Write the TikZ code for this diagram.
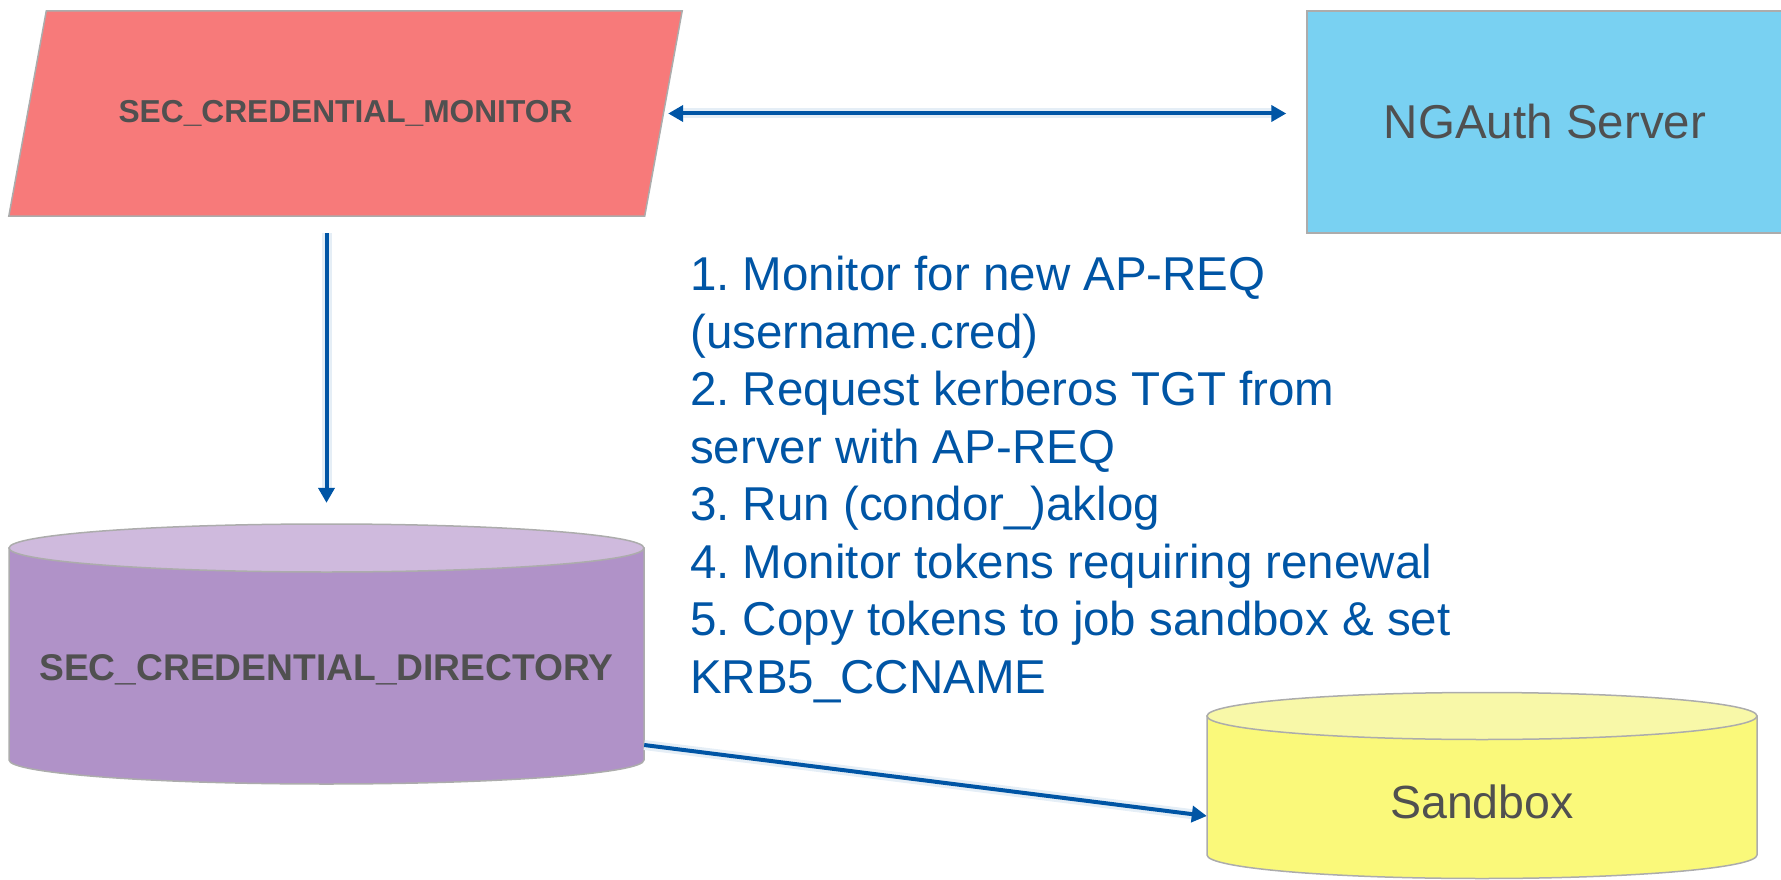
\documentclass[tikz,border=0pt]{standalone}
\usepackage{fontspec}
\setmainfont{Liberation Sans}
\usetikzlibrary{positioning}
\usetikzlibrary{arrows.meta}
\usetikzlibrary{calc}
\frenchspacing
\definecolor{monred}{RGB}{247,122,122}
\definecolor{authblue}{RGB}{121,209,242}
\definecolor{dirbody}{RGB}{176,146,200}
\definecolor{dirtop}{RGB}{207,186,221}
\definecolor{boxbody}{RGB}{250,249,122}
\definecolor{boxtop}{RGB}{248,248,168}
\definecolor{edgegray}{RGB}{172,172,172}
\definecolor{labelgray}{RGB}{80,80,80}
\definecolor{flowblue}{RGB}{0,85,165}
\tikzstyle{outline}=[draw=edgegray,line width=1.5pt]
\tikzstyle{server}=[rectangle,outline,fill=authblue,inner sep=0pt,text=labelgray]
\tikzstyle{frame}=[rectangle,inner sep=0pt]
\tikzstyle{shapelabel}=[text=labelgray,inner sep=0pt]
\tikzstyle{flow}=[draw=flowblue,line width=4pt,preaction={draw=flowblue!10,line width=10pt}]
\tikzstyle{tip}=[-{Triangle[length=15pt,width=16pt]}]
\tikzstyle{tips}=[{Triangle[length=15pt,width=16pt]}-{Triangle[length=15pt,width=16pt]}]

\begin{document}
\begin{tikzpicture}[x=1pt,y=-1pt]
\useasboundingbox (0,0) rectangle (1781,880);

%Monitor (parallelogram) and server
\def\slant{37.5}
\node[frame,minimum width=673pt,minimum height=205pt] (mon) at (345.5,113.5) {};
\draw[outline,fill=monred] ($(mon.north west)+(\slant,0)$) -- (mon.north east)
   -- ($(mon.south east)+(-\slant,0)$) -- (mon.south west) -- cycle;
\node[shapelabel,font=\fontsize{31.7}{38}\selectfont\bfseries] (monlabel) at (mon) {SEC\_CREDENTIAL\_MONITOR};
\node[server,minimum width=476pt,minimum height=222pt,font=\fontsize{47.5}{56}\selectfont] (auth) at (1545,122) {NGAuth Server};

%Stores: centre / x radius / half body / y radius / colours / name
\foreach \cx/\cy/\rx/\h/\ry/\body/\top/\name in {326.5/654/317.5/106/24/dirbody/dirtop/dir, 1482/785.5/275/69.5/23.5/boxbody/boxtop/box}
{
  \draw[outline,fill=\body] (\cx-\rx,\cy-\h) -- (\cx-\rx,\cy+\h)
     arc[start angle=180,end angle=0,x radius=\rx,y radius=\ry] -- (\cx+\rx,\cy-\h) -- cycle;
  \draw[outline,fill=\top] (\cx,\cy-\h) ellipse[x radius=\rx,y radius=\ry];
  \node[frame,minimum width=2*\rx pt,minimum height=2*\h pt+2*\ry pt] (\name) at (\cx,\cy) {};
}
\node[shapelabel,font=\fontsize{37.2}{44}\selectfont\bfseries] (dirlabel) at ($(dir)+(0,16)$) {SEC\_CREDENTIAL\_DIRECTORY};
\node[shapelabel,font=\fontsize{46.5}{56}\selectfont] (boxlabel) at ($(box)+(0,16)$) {Sandbox};

%Steps
\node[anchor=north west,align=left,inner sep=0pt,text=flowblue,font=\fontsize{47.5}{57.5}\selectfont] (steps) at (690,256)
  {1. Monitor for new AP-REQ\\(username.cred)\\2. Request kerberos TGT from\\server with AP-REQ\\3. Run (condor\_)aklog\\4. Monitor tokens requiring renewal\\5. Copy tokens to job sandbox \& set\\KRB5\_CCNAME};

%Connectors
\draw[flow,tips,shorten >=20pt] ($(mon.east)+(-14,0)$) -- (mon.east -| auth.west);
\draw[flow,tip,shorten <=17pt,shorten >=21pt] (mon.south -| dir.north) -- (dir.north);
\draw[flow,tip] ($(dir.east)+(0,91)$) -- ($(box.west)+(0,30.5)$);

\end{tikzpicture}
\end{document}
